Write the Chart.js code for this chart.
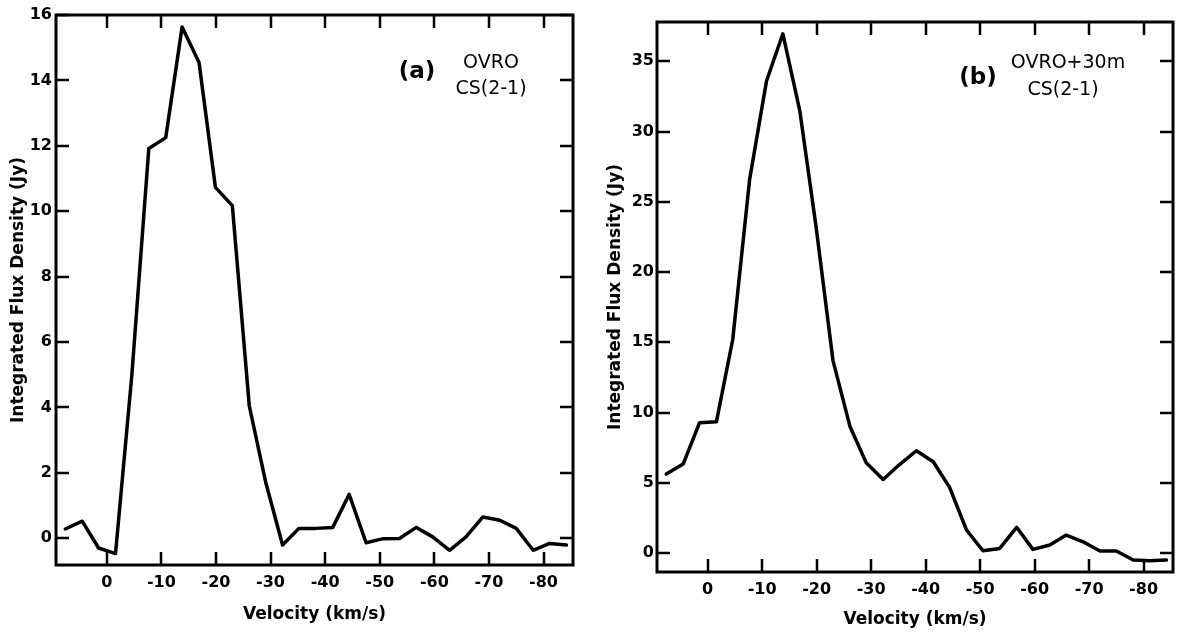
<!DOCTYPE html>
<html>
<head>
<meta charset="utf-8">
<script src="https://cdn.jsdelivr.net/npm/chart.js@4/dist/chart.umd.min.js"></script>
<style>
  html, body { margin: 0; padding: 0; background: #fff; }
  #wrap { position: relative; width: 1177px; height: 634px; overflow: hidden; }
  canvas { position: absolute; top: 0; }
</style>
</head>
<body>
<div id="wrap">
  <canvas id="chartA" width="588" height="634" style="left:0"></canvas>
  <canvas id="chartB" width="589" height="634" style="left:588px"></canvas>
</div>
<script>
// Velocity channels (km/s), shared by both panels
const velocities = [7.6, 4.5, 1.5, -1.6, -4.6, -7.7, -10.8, -13.8, -16.9, -19.9, -23.0,
  -26.1, -29.1, -32.2, -35.2, -38.3, -41.4, -44.4, -47.5, -50.5, -53.6,
  -56.7, -59.7, -62.8, -65.8, -68.9, -72.0, -75.0, -78.1, -81.1, -84.2];

// (a) OVRO only, CS(2-1)
const fluxOvro = [0.28, 0.52, -0.3, -0.47, 5.0, 11.92, 12.25, 15.63, 14.55, 10.73, 10.17,
  4.05, 1.72, -0.21, 0.3, 0.3, 0.33, 1.34, -0.14, -0.02, -0.01,
  0.33, 0.04, -0.37, 0.04, 0.65, 0.55, 0.3, -0.37, -0.16, -0.21];

// (b) OVRO + 30m, CS(2-1)
const fluxCombined = [5.62, 6.33, 9.27, 9.34, 15.2, 26.6, 33.6, 36.96, 31.5, 23.2, 13.7,
  9.03, 6.42, 5.24, 6.3, 7.28, 6.5, 4.67, 1.64, 0.17, 0.33,
  1.83, 0.26, 0.57, 1.28, 0.8, 0.14, 0.14, -0.5, -0.55, -0.5];

// tick values
const xTickValues = [0, -10, -20, -30, -40, -50, -60, -70, -80];
const yTicksA = [0, 2, 4, 6, 8, 10, 12, 14, 16];
const yTicksB = [0, 5, 10, 15, 20, 25, 30, 35];

const FONT = "'DejaVu Sans', 'Liberation Sans', Arial, sans-serif";

// frame on four sides with inward ticks, like the original plot
const frameTicks = {
  id: 'frameTicks',
  afterDatasetsDraw(chart) {
    const { ctx, chartArea: a, scales: { x, y } } = chart;
    const len = 13;
    ctx.save();
    ctx.strokeStyle = '#000';
    ctx.lineWidth = 3;
    ctx.strokeRect(a.left, a.top, a.right - a.left, a.bottom - a.top);
    ctx.lineWidth = 2.5;
    ctx.beginPath();
    x.ticks.forEach(t => {
      const px = Math.round(x.getPixelForValue(t.value));
      ctx.moveTo(px, a.bottom); ctx.lineTo(px, a.bottom - len);
      ctx.moveTo(px, a.top); ctx.lineTo(px, a.top + len);
    });
    y.ticks.forEach(t => {
      const py = Math.round(y.getPixelForValue(t.value));
      ctx.moveTo(a.left, py); ctx.lineTo(a.left + len, py);
      ctx.moveTo(a.right, py); ctx.lineTo(a.right - len, py);
    });
    ctx.stroke();
    ctx.restore();
  }
};

// panel labels
const panelText = {
  id: 'panelText',
  afterDraw(chart, args, opts) {
    const ctx = chart.ctx;
    ctx.save();
    ctx.fillStyle = '#000';
    ctx.textAlign = 'center';
    ctx.textBaseline = 'middle';
    (opts.items || []).forEach(it => {
      ctx.font = it.font;
      ctx.fillText(it.text, it.x, it.y);
    });
    ctx.restore();
  }
};

function makePanel(canvasId, values, yTicks, yMin, yMax, cfg) {
  const ctx = document.getElementById(canvasId).getContext('2d');
  return new Chart(ctx, {
    type: 'line',
    data: {
      datasets: [{
        data: velocities.map((v, i) => ({ x: v, y: values[i] })),
        borderColor: '#000',
        borderWidth: 3.5,
        borderJoinStyle: 'round',
        borderCapStyle: 'round',
        pointRadius: 0,
        tension: 0,
        fill: false
      }]
    },
    options: {
      responsive: false,
      animation: false,
      devicePixelRatio: 1,
      layout: { padding: cfg.padding },
      plugins: {
        legend: { display: false },
        tooltip: { enabled: false },
        panelText: { items: cfg.labels }
      },
      scales: {
        x: {
          type: 'linear',
          reverse: true,
          min: -85.4,
          max: 9.3,
          afterBuildTicks: s => { s.ticks = xTickValues.map(v => ({ value: v })); },
          afterFit: s => { s.height = cfg.xHeight; },
          grid: { display: false, drawTicks: false },
          border: { display: false },
          ticks: { color: '#000', padding: 8, maxRotation: 0, font: { family: FONT, size: 16, weight: 'bold' } },
          title: {
            display: true, text: 'Velocity (km/s)', color: '#000',
            font: { family: FONT, size: 17, weight: 'bold' },
            padding: { top: 0, bottom: cfg.xTitlePad }
          }
        },
        y: {
          min: yMin,
          max: yMax,
          afterBuildTicks: s => { s.ticks = yTicks.map(v => ({ value: v })); },
          afterFit: s => { s.width = cfg.yWidth; },
          grid: { display: false, drawTicks: false },
          border: { display: false },
          ticks: { color: '#000', padding: cfg.yTickPad, font: { family: FONT, size: 16, weight: 'bold' } },
          title: {
            display: true, text: 'Integrated Flux Density (Jy)', color: '#000',
            font: { family: FONT, size: 17, weight: 'bold' },
            padding: { top: cfg.yTitlePad, bottom: 0 }
          }
        }
      }
    },
    plugins: [frameTicks, panelText]
  });
}

makePanel('chartA', fluxOvro, yTicksA, -0.82, 16, {
  padding: { top: 15, right: 15, left: 0, bottom: 0 },
  xHeight: 69, yWidth: 56, xTitlePad: 9, yTitlePad: 8, yTickPad: 4,
  labels: [
    { text: '(a)', x: 417, y: 72, font: "bold 23px " + FONT },
    { text: 'OVRO', x: 491, y: 63, font: "19px " + FONT },
    { text: 'CS(2-1)', x: 491, y: 89, font: "19px " + FONT }
  ]
});

makePanel('chartB', fluxCombined, yTicksB, -1.35, 37.8, {
  padding: { top: 22, right: 4, left: 0, bottom: 0 },
  xHeight: 62, yWidth: 69, xTitlePad: 4, yTitlePad: 17, yTickPad: 3,
  labels: [
    { text: '(b)', x: 390, y: 78, font: "bold 23px " + FONT },
    { text: 'OVRO+30m', x: 480, y: 63, font: "19px " + FONT },
    { text: 'CS(2-1)', x: 475, y: 90, font: "19px " + FONT }
  ]
});
</script>
</body>
</html>
